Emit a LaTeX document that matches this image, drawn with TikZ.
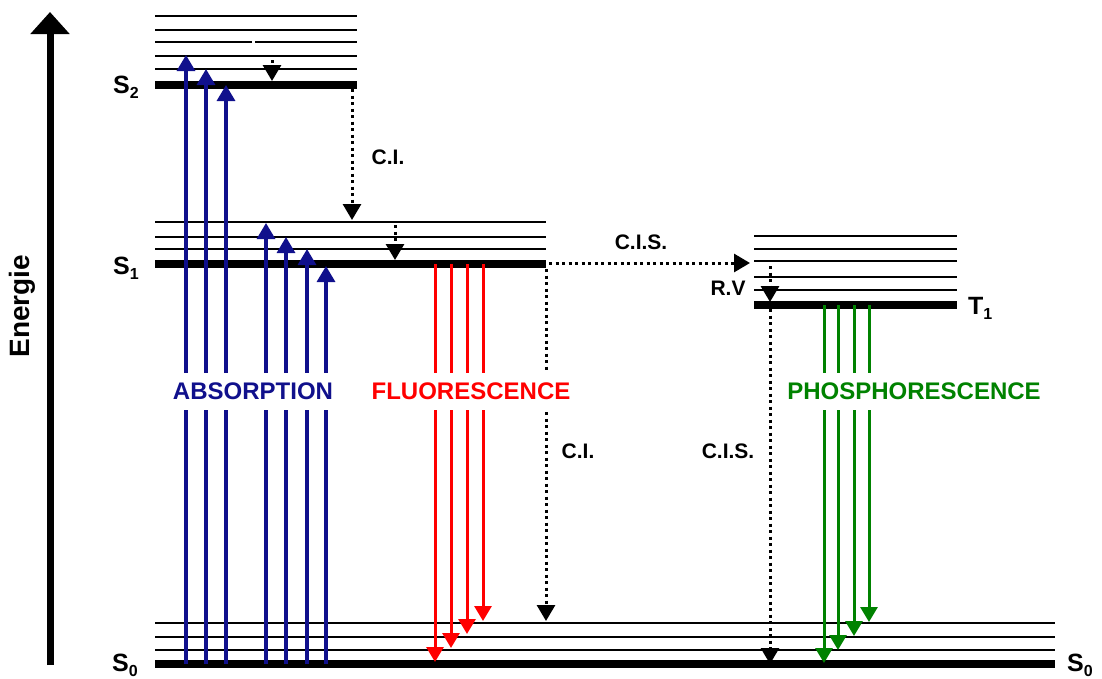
\documentclass[tikz,border=0pt]{standalone}
\usepackage{fontspec}
\setmainfont{Liberation Sans}
\usetikzlibrary{arrows.meta}

\definecolor{absblue}{RGB}{16,16,140}
\definecolor{fluored}{RGB}{255,0,0}
\definecolor{phosgreen}{RGB}{0,130,0}

\newcommand\statename[2]{#1\raisebox{-5pt}{\fontsize{16}{16}\selectfont #2}}

\tikzset{
  thinlevel/.style={line width=1.5pt},
  mainlevel/.style={line width=7.5pt},
  absarrow/.style={absblue, line width=3.2pt, -{Triangle[width=18pt,length=16pt]}},
  fluarrow/.style={fluored, line width=3pt, -{Triangle[width=17pt,length=15pt]}},
  phosarrow/.style={phosgreen, line width=3pt, -{Triangle[width=17pt,length=15pt]}},
  nonrad/.style={line width=3pt, dash pattern=on 3pt off 3.5pt,
                 -{Triangle[width=18pt,length=16pt]}},
  axisarrow/.style={line width=7pt, -{Triangle[width=38pt,length=22pt]}},
  statelabel/.style={font=\fontsize{25}{25}\selectfont\bfseries, inner sep=0pt},
  proclabel/.style={font=\fontsize{24}{24}\selectfont\bfseries, fill=white,
                    inner xsep=3pt, inner ysep=10pt},
  smalllabel/.style={font=\fontsize{21}{21}\selectfont\bfseries, inner sep=0pt},
}

\begin{document}
\begin{tikzpicture}[x=1pt,y=-1pt]
\useasboundingbox (0,0) rectangle (1102,678);

% energy axis
\coordinate (axisfoot) at (50,665);
\coordinate (axistop) at (50,12);
\draw[axisarrow] (axisfoot) -- (axistop);
\node[rotate=90, font=\fontsize{28}{28}\selectfont\bfseries] (energie) at (22,306) {Energie};

% S2 manifold
\foreach \y in {16,30,56,69} \draw[thinlevel] (155,\y) -- (357,\y);
\draw[thinlevel] (155,42) -- (252,42) (255,42) -- (357,42);
\coordinate (s2l) at (155,85); \coordinate (s2r) at (357,85);
\draw[mainlevel] (s2l) -- (s2r);

% S1 manifold
\foreach \y in {222,237,249} \draw[thinlevel] (155,\y) -- (546,\y);
\coordinate (s1l) at (155,264); \coordinate (s1r) at (546,264);
\draw[mainlevel] (s1l) -- (s1r);

% T1 manifold
\foreach \y in {236,249,261,277,290} \draw[thinlevel] (754,\y) -- (957,\y);
\coordinate (t1l) at (754,305); \coordinate (t1r) at (957,305);
\draw[mainlevel] (t1l) -- (t1r);

% S0 manifold
\foreach \y in {623,637,650} \draw[thinlevel] (155,\y) -- (1055,\y);
\coordinate (s0l) at (155,664); \coordinate (s0r) at (1055,664);
\draw[mainlevel] (s0l) -- (s0r);

% state names
\node[statelabel, anchor=base west] (lS2) at (113,93) {\statename{S}{2}};
\node[statelabel, anchor=base west] (lS1) at (113,274) {\statename{S}{1}};
\node[statelabel, anchor=base west] (lS0a) at (112,671) {\statename{S}{0}};
\node[statelabel, anchor=base west] (lS0b) at (1067,671) {\statename{S}{0}};
\node[statelabel, anchor=base west] (lT1) at (968,314) {\statename{T}{1}};

% absorption
\foreach \x/\y [count=\i] in {186/55,206/69,226/85,266/223,286/237,307/249,326/266} {
  \coordinate (ab\i) at (\x,664);
  \coordinate (at\i) at (\x,\y);
  \draw[absarrow] (ab\i) -- (at\i);
}

% fluorescence
\foreach \x/\y [count=\i] in {435/662,451/648,467/634,483/621} {
  \coordinate (fb\i) at (\x,264);
  \coordinate (ft\i) at (\x,\y);
  \draw[fluarrow] (fb\i) -- (ft\i);
}

% phosphorescence
\foreach \x/\y [count=\i] in {824/663,838/650,854/636,869/622} {
  \coordinate (pb\i) at (\x,305);
  \coordinate (pt\i) at (\x,\y);
  \draw[phosarrow] (pb\i) -- (pt\i);
}

% non-radiative transitions
\coordinate (rv2a) at (272,60);   \coordinate (rv2b) at (272,81);
\coordinate (ci1a) at (352,89);   \coordinate (ci1b) at (352,220);
\coordinate (rv1a) at (395,225);  \coordinate (rv1b) at (395,260);
\coordinate (cisa) at (549,263);  \coordinate (cisb) at (750,263);
\coordinate (rvta) at (770,266);  \coordinate (rvtb) at (770,302);
\coordinate (ci2a) at (546,269);  \coordinate (ci2b) at (546,621);
\coordinate (cis2a) at (770,309); \coordinate (cis2b) at (770,664);
\draw[nonrad] (rv2a) -- (rv2b);
\draw[nonrad] (ci1a) -- (ci1b);
\draw[nonrad] (rv1a) -- (rv1b);
\draw[nonrad] (cisa) -- (cisb);
\draw[nonrad] (rvta) -- (rvtb);
\draw[nonrad] (ci2a) -- (ci2b);
\draw[nonrad] (cis2a) -- (cis2b);

% transition labels
\node[smalllabel] (lci1) at (388,157) {C.I.};
\node[smalllabel] (lcis1) at (641,242) {C.I.S.};
\node[smalllabel] (lrv) at (728,288) {R.V};
\node[smalllabel] (lci2) at (578,451) {C.I.};
\node[smalllabel] (lcis2) at (728,451) {C.I.S.};

% process names
\node[proclabel, text=absblue] (labs) at (253,391) {ABSORPTION};
\node[proclabel, text=fluored] (lflu) at (471,391) {FLUORESCENCE};
\node[proclabel, text=phosgreen] (lphos) at (914,391) {PHOSPHORESCENCE};
\end{tikzpicture}
\end{document}
